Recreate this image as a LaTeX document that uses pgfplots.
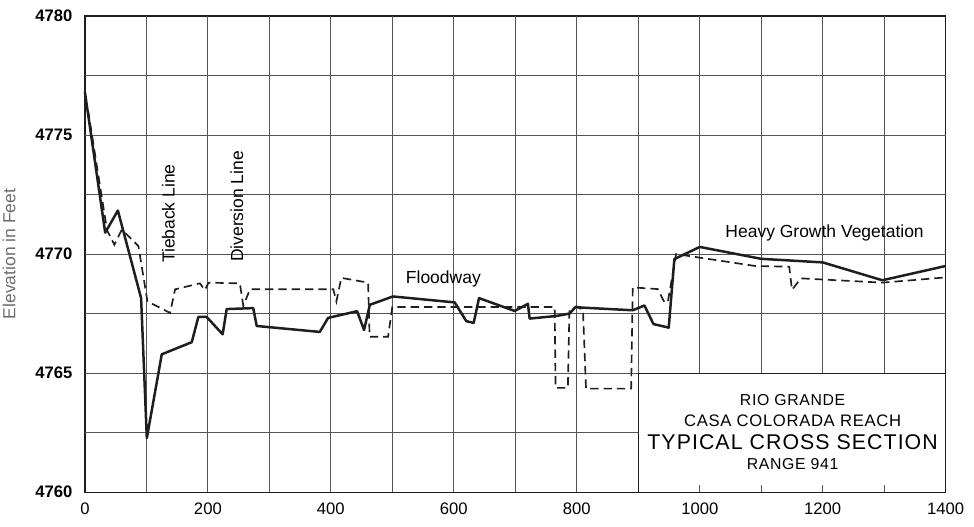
\documentclass[border=0pt]{standalone}
\usepackage{fontspec}
\setmainfont{Liberation Sans}
\usepackage{pgfplots}
\pgfplotsset{compat=1.18}
\definecolor{ink}{RGB}{30,30,30}
\definecolor{gridc}{RGB}{85,85,85}
\definecolor{labelc}{RGB}{110,110,110}

\begin{document}
\begin{tikzpicture}
\begin{axis}[scale only axis, width=517pt, height=286pt,
  xmin=0, xmax=1400, ymin=4760, ymax=4780,
  xtick={0,200,...,1400}, ytick={4760,4765,...,4780},
  major tick length=0pt, axis line style={ink, line width=0.8pt},
  /pgf/number format/assume math mode=true,
  /pgf/number format/1000 sep={},
  xticklabel style={font=\fontsize{10}{12}\selectfont, yshift=-3pt},
  yticklabel style={font=\fontsize{10}{12}\selectfont\bfseries, xshift=-4pt},
  clip=false]
% grid, kept out of the title box
\pgfplotsinvokeforeach{100,200,...,900}{\draw[gridc, line width=0.5pt] (axis cs:#1,4760) -- (axis cs:#1,4780);}
\pgfplotsinvokeforeach{1000,1100,1200,1300}{\draw[gridc, line width=0.5pt] (axis cs:#1,4765) -- (axis cs:#1,4780);
  \draw[gridc, line width=0.5pt] (axis cs:#1,4760) -- (axis cs:#1,4760.3);}
\draw[gridc, line width=0.5pt] (axis cs:0,4762.5) -- (axis cs:900,4762.5);
\pgfplotsinvokeforeach{4765,4767.5,4770,4772.5,4775,4777.5}{\draw[gridc, line width=0.5pt] (axis cs:0,#1) -- (axis cs:1400,#1);}
\draw[ink, line width=0.6pt] (axis cs:900,4760) -- (axis cs:900,4765) -- (axis cs:1400,4765);

\addplot[ink, line width=1.5pt, line join=round] coordinates {
(0,4776.8)(33,4770.9)(53.6,4771.83)(91.4,4768.15)(100.7,4762.27)(125,4765.79)(173.8,4766.3)(184.5,4767.36)(198,4767.36)(224,4766.63)(230.6,4767.69)(273.8,4767.73)(279.4,4766.98)(382,4766.73)(395.6,4767.32)(442.7,4767.6)(454,4766.81)(463.4,4767.87)(501,4768.22)(601.4,4767.97)(620.4,4767.18)(632.3,4767.11)(641,4768.15)(699,4767.61)(720.5,4767.91)(723.3,4767.29)(766.6,4767.4)(788.2,4767.5)(798,4767.78)(809.8,4767.75)(891,4767.64)(910,4767.84)(924.7,4767.06)(949.5,4766.91)(958.7,4769.79)(1000,4770.3)(1100,4769.8)(1200,4769.65)(1297,4768.9)(1400,4769.5)};

\addplot[ink, line width=1pt, dash pattern=on 5pt off 3pt] coordinates {
(0,4776.6)(6,4775.9)(36,4771.0)(48,4770.39)(60,4771.03)(87,4770.34)(101.7,4768.01)(138.5,4767.53)(146.7,4768.52)(187,4768.77)(195,4768.49)(201,4768.8)(252,4768.77)(257.6,4767.83)(268.5,4768.52)(404,4768.52)(409,4768.01)(417,4769.0)(460.6,4768.8)(463,4766.53)(493,4766.53)(500,4767.78)(764,4767.78)(765.5,4764.38)(785.5,4764.38)(788,4767.64)(799,4767.78)(810,4767.67)(815,4764.35)(888.4,4764.35)(891,4768.6)(931.6,4768.53)(942.5,4767.98)(948,4767.98)(961.5,4770.0)(1000,4769.85)(1090,4769.5)(1145.5,4769.47)(1150,4768.5)(1164.5,4768.98)(1297,4768.8)(1400,4769.02)};

\node[rotate=90, font=\fontsize{10.5}{12}\selectfont] at (axis cs:135.6,4771.7) {Tieback Line};
\node[rotate=90, font=\fontsize{10.5}{12}\selectfont] at (axis cs:247,4772.0) {Diversion Line};
\node[font=\fontsize{10.5}{12}\selectfont] at (axis cs:583,4768.95) {Floodway};
\node[font=\fontsize{10.5}{12}\selectfont] at (axis cs:1203,4770.9) {Heavy Growth Vegetation};
\node[font=\fontsize{9.5}{12}\selectfont\addfontfeature{LetterSpace=4}] at (axis cs:1151,4763.85) {RIO GRANDE};
\node[font=\fontsize{10}{12}\selectfont\addfontfeature{LetterSpace=4}] at (axis cs:1151,4763.0) {CASA COLORADA REACH};
\node[font=\fontsize{12.8}{14}\selectfont\addfontfeature{LetterSpace=5}] at (axis cs:1151,4762.1) {TYPICAL CROSS SECTION};
\node[font=\fontsize{9.5}{12}\selectfont\addfontfeature{LetterSpace=4}] at (axis cs:1151,4761.2) {RANGE 941};
\node[rotate=90, font=\fontsize{10.5}{12}\selectfont, labelc] at (rel axis cs:-0.088,0.5) {Elevation in Feet};
\end{axis}
\pgfresetboundingbox
\path (-51pt,-20.4pt) rectangle (534pt,295.6pt);
\end{tikzpicture}
\end{document}
